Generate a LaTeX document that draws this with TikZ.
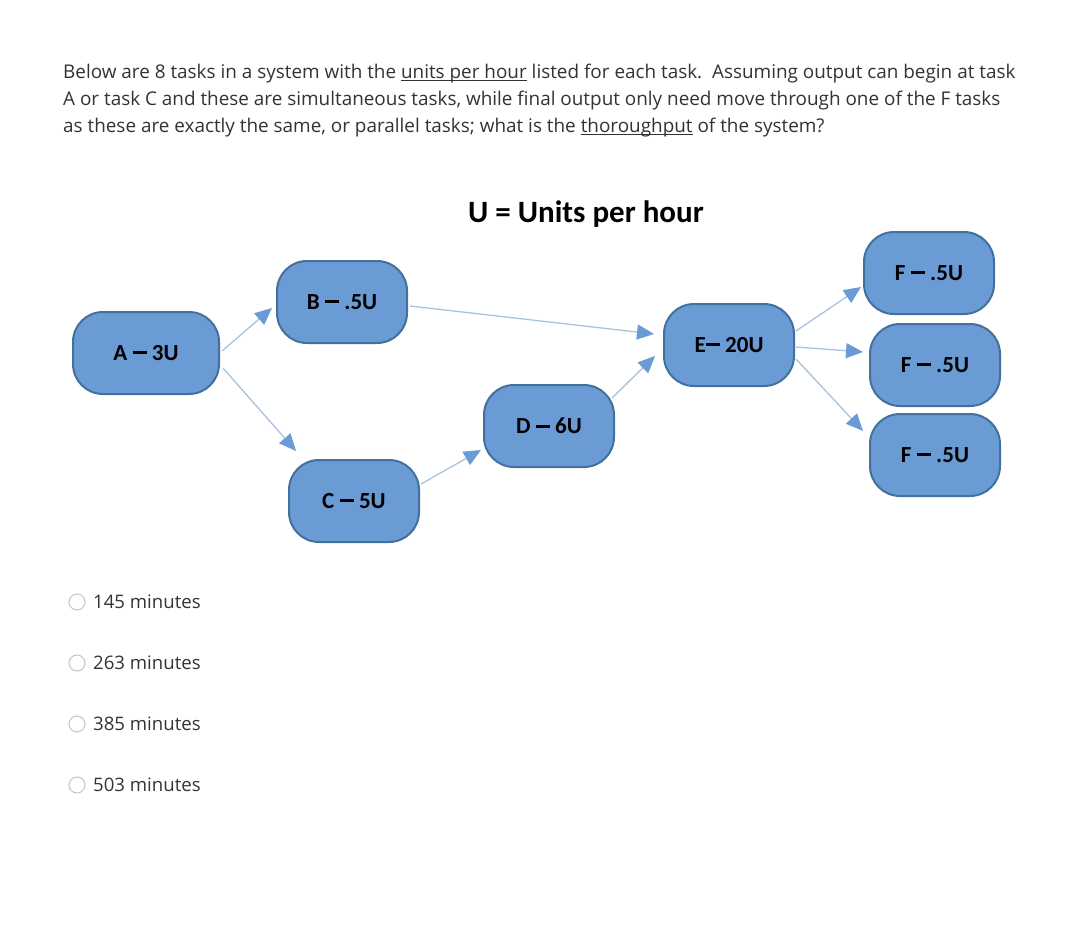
\documentclass[tikz,border=0pt]{standalone}
\usepackage{fontspec}
\setmainfont{Open Sans}
\newfontfamily\boxfont{Carlito}
\usetikzlibrary{arrows.meta}
\definecolor{taskfill}{HTML}{6A9BD5}
\definecolor{taskline}{HTML}{41719C}
\definecolor{linkline}{HTML}{A9C1E2}
\definecolor{bodytext}{HTML}{333333}
\definecolor{radioline}{HTML}{C4C4C4}
\newcommand{\taskdash}{\rule[0.27em]{0.62em}{0.12em}}
\newcommand{\uln}[1]{\setbox0\hbox{#1}\rlap{\rule[-2.8pt]{\wd0}{1pt}}\box0\relax}
\tikzset{
    task/.style={rectangle, rounded corners=30pt, fill=taskfill, draw=taskline, line width=2pt,
        minimum height=82pt, minimum width=130pt, font=\boxfont\bfseries\fontsize{23}{27}\selectfont},
    link/.style={draw=linkline, line width=1.3pt, -{Triangle[length=17pt,width=15pt,color=taskfill]}},
    line/.style={anchor=base west, text=bodytext, font=\fontsize{18.9}{22}\selectfont, inner sep=0pt},
    radio/.style={circle, draw=radioline, line width=1pt, minimum size=16pt, inner sep=0pt}
}
\newcommand{\answer}[3]{
    \node[radio] (#1) at (77,#2) {};
    \node[line, font=\fontsize{18.6}{22}\selectfont] (#1t) at (93,#2+6) {#3};
}
\begin{document}
\begin{tikzpicture}[x=1pt,y=-1pt]
    \useasboundingbox[fill=white] (0,0) rectangle (1080,929);
    \node[line] (q1) at (63,78) {Below are 8 tasks in a system with the \uln{units per hour} listed for each task.\ \ Assuming output can begin at task};
    \node[line] (q2) at (63,105) {A or task C and these are simultaneous tasks, while final output only need move through one of the F tasks};
    \node[line] (q3) at (63,132) {as these are exactly the same, or parallel tasks; what is the \uln{thoroughput} of the system?};
    \node[font=\boxfont\bfseries\fontsize{31}{35}\selectfont] (key) at (586,214) {U = Units per hour};

    \node[task, minimum width=146pt] (A) at (146,353) {A \taskdash{} 3U};
    \node[task] (B) at (342,302) {B \taskdash{} .5U};
    \node[task] (C) at (354,501) {C \taskdash{} 5U};
    \node[task] (D) at (549,426) {D \taskdash{} 6U};
    \node[task] (E) at (729,345) {E\taskdash{} 20U};
    \node[task] (F1) at (929,273) {F \taskdash{} .5U};
    \node[task] (F2) at (935,365) {F \taskdash{} .5U};
    \node[task] (F3) at (935,455) {F \taskdash{} .5U};

    \draw[link] ([shift={(2,-2)}]A.east) -- ([shift={(-4,6)}]B.west);
    \draw[link] ([shift={(3,15)}]A.east) -- ([shift={(8,-8)}]C.north west);
    \draw[link] ([shift={(2,4)}]B.east) -- ([shift={(-9,-11)}]E.west);
    \draw[link] ([shift={(1,-17)}]C.east) -- ([shift={(-2,24)}]D.west);
    \draw[link] ([shift={(-3,-28)}]D.east) -- ([shift={(-8,11)}]E.west);
    \draw[link] ([shift={(1,-14)}]E.east) -- ([shift={(-2,14)}]F1.west);
    \draw[link] ([shift={(1,2)}]E.east) -- ([shift={(-6,-13)}]F2.west);
    \draw[link] ([shift={(1,14)}]E.east) -- ([shift={(-6,-24)}]F3.west);

    \answer{r1}{602}{145 minutes}
    \answer{r2}{663}{263 minutes}
    \answer{r3}{724}{385 minutes}
    \answer{r4}{785}{503 minutes}
\end{tikzpicture}
\end{document}
